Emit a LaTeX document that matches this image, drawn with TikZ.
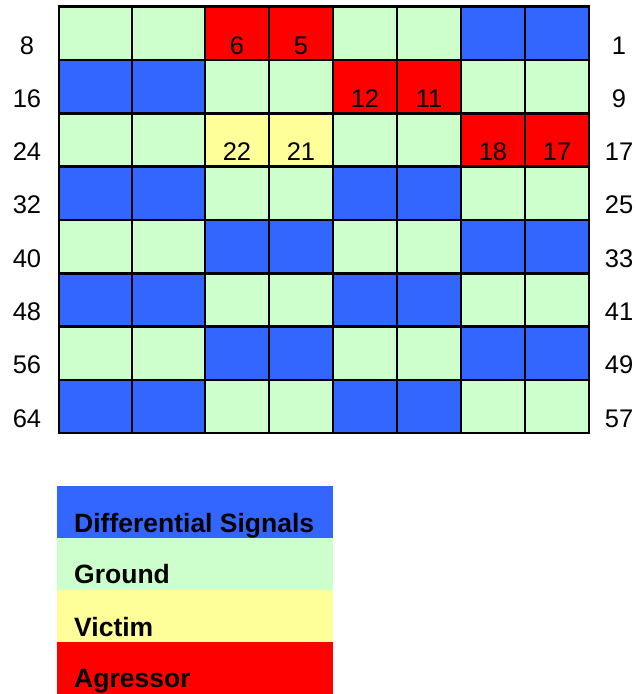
\documentclass[tikz,border=0pt]{standalone}
\usepackage{fontspec}
\setmainfont{Liberation Sans}
\definecolor{cb}{HTML}{3366FF}
\definecolor{cg}{HTML}{CCFFCC}
\definecolor{cy}{HTML}{FFFF99}
\definecolor{cr}{HTML}{FF0000}
\tikzset{
  pinlabel/.style={anchor=base,inner sep=0pt,font=\fontsize{25.5}{30}\selectfont},
  legendtext/.style={anchor=base west,inner sep=0pt,font=\fontsize{26.5}{31}\selectfont\bfseries},
  gridline/.style={line width=2.6pt,line cap=rect,black}
}
\begin{document}
\begin{tikzpicture}[x=1pt,y=-1pt]
\useasboundingbox (0,0) rectangle (636,694);
% cells
\foreach \r/\cols in {0/{g,g,r,r,g,g,b,b},1/{b,b,g,g,r,r,g,g},2/{g,g,y,y,g,g,r,r},3/{b,b,g,g,b,b,g,g},4/{g,g,b,b,g,g,b,b},5/{b,b,g,g,b,b,g,g},6/{g,g,b,b,g,g,b,b},7/{b,b,g,g,b,b,g,g}}{
  \foreach \c [count=\i from 0] in \cols {
    \pgfmathsetmacro\xa{{59,132,205,269,333,397,461,525,589}[\i]}
    \pgfmathsetmacro\xb{{59,132,205,269,333,397,461,525,589}[\i+1]}
    \pgfmathsetmacro\ya{6.7+53.3*\r}
    \pgfmathsetmacro\yb{6.7+53.3*(\r+1)}
    \fill[c\c] (\xa,\ya) rectangle (\xb,\yb);
  }
}
% grid lines
\foreach \r in {0,...,8}{
  \pgfmathsetmacro\yy{6.7+53.3*\r}
  \draw[gridline] (59,\yy) -- (589,\yy);
}
\foreach \x in {59,132,205,269,333,397,461,525,589}{
  \draw[gridline] (\x,6.7) -- (\x,433.1);
}
% row labels
\foreach \r [count=\k from 0] in {8,16,24,32,40,48,56,64}{
  \pgfmathsetmacro\yy{6.7+53.3*(\k+1)-6}
  \node[pinlabel] (L\r) at (27,\yy) {\r};
}
\foreach \r [count=\k from 0] in {1,9,17,25,33,41,49,57}{
  \pgfmathsetmacro\yy{6.7+53.3*(\k+1)-6}
  \node[pinlabel] (R\r) at (619,\yy) {\r};
}
% cell numbers
\node[pinlabel] (p6) at (237,54) {6};
\node[pinlabel] (p5) at (301,54) {5};
\node[pinlabel] (p12) at (365,107.3) {12};
\node[pinlabel] (p11) at (429,107.3) {11};
\node[pinlabel] (p22) at (237,160.6) {22};
\node[pinlabel] (p21) at (301,160.6) {21};
\node[pinlabel] (p18) at (493,160.6) {18};
\node[pinlabel] (p17) at (557,160.6) {17};
% legend
\fill[cb] (57,486) rectangle (333,538);
\fill[cg] (57,538) rectangle (333,590);
\fill[cy] (57,590) rectangle (333,642);
\fill[cr] (57,642) rectangle (333,694);
\node[legendtext] (lg1) at (74,532) {Differential Signals};
\node[legendtext] (lg2) at (74,583) {Ground};
\node[legendtext] (lg3) at (74,636) {Victim};
\node[legendtext] (lg4) at (74,687) {Agressor};
\end{tikzpicture}
\end{document}
